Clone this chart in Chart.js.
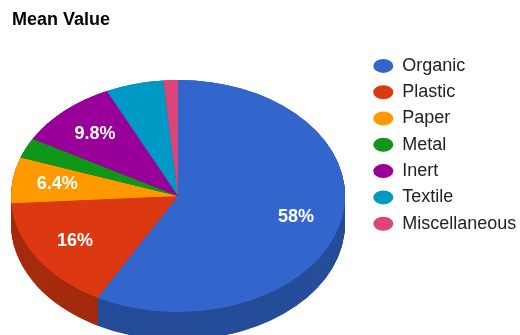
<!DOCTYPE html>
<html>
<head>
<meta charset="utf-8">
<script src="https://cdn.jsdelivr.net/npm/chart.js@4.4.0/dist/chart.umd.min.js"></script>
<style>
  body { margin: 0; background: #fff; }
  canvas { display: block; }
</style>
</head>
<body>
<canvas id="meanValueChart" width="520" height="335"></canvas>
<script>
const categories = ["Organic", "Plastic", "Paper", "Metal", "Inert", "Textile", "Miscellaneous"];
const meanValues = [58, 16, 6.4, 2.8, 9.8, 5.6, 1.4];
const sliceColors = ["#3366cc", "#dc3912", "#ff9900", "#109618", "#990099", "#0099c6", "#dd4477"];

// where the tilted pie sits on the page (screen px)
const tilt = { cx: 178, cy: 196, rx: 167, ry: 116, depth: 28 };
const labelMin = 6; // slices smaller than this get no label
const fontFamily = "'Liberation Sans', Arial, sans-serif";

function darker(hex, f) {
  const n = parseInt(hex.slice(1), 16);
  const r = Math.round(((n >> 16) & 255) * f);
  const g = Math.round(((n >> 8) & 255) * f);
  const b = Math.round((n & 255) * f);
  return `rgb(${r}, ${g}, ${b})`;
}
const sideColors = sliceColors.map((c) => darker(c, 0.75));

function pctText(v, total) {
  const p = (v / total) * 100;
  return (p >= 10 ? Math.round(p) : p.toFixed(1)) + "%";
}

// squash the pie into an ellipse and give it a side wall
const pie3d = {
  id: "pie3d",
  beforeDatasetsDraw(chart) {
    const arcs = chart.getDatasetMeta(0).data;
    const R = arcs[0].outerRadius;
    const ctx = chart.ctx;
    ctx.save();
    ctx.translate(tilt.cx, tilt.cy);
    ctx.scale(tilt.rx / R, tilt.ry / R);
    ctx.translate(-arcs[0].x, -arcs[0].y);
    const depth = tilt.depth * R / tilt.ry;
    const step = 0.5 * R / tilt.ry;
    for (let d = depth; d > 0; d -= step) {
      arcs.forEach((arc, i) => {
        ctx.beginPath();
        ctx.moveTo(arc.x, arc.y + d);
        ctx.arc(arc.x, arc.y + d, arc.outerRadius, arc.startAngle, arc.endAngle);
        ctx.closePath();
        ctx.fillStyle = sideColors[i];
        ctx.fill();
      });
    }
  },
  afterDatasetsDraw(chart) {
    const ctx = chart.ctx;
    ctx.restore();
    const arcs = chart.getDatasetMeta(0).data;
    const total = meanValues.reduce((a, b) => a + b, 0);
    ctx.save();
    ctx.fillStyle = "#ffffff";
    ctx.font = "bold 18px " + fontFamily;
    ctx.textAlign = "center";
    ctx.textBaseline = "middle";
    arcs.forEach((arc, i) => {
      if (meanValues[i] < labelMin) return;
      const mid = (arc.startAngle + arc.endAngle) / 2;
      const x = tilt.cx + Math.cos(mid) * 0.73 * tilt.rx;
      const y = tilt.cy + Math.sin(mid) * 0.73 * tilt.ry;
      ctx.fillText(pctText(meanValues[i], total), x, y);
    });
    ctx.restore();
  },
};

const ctx = document.getElementById("meanValueChart").getContext("2d");
new Chart(ctx, {
  type: "pie",
  data: {
    labels: categories,
    datasets: [
      {
        data: meanValues,
        backgroundColor: sliceColors,
        borderWidth: 0,
        clip: false,
      },
    ],
  },
  options: {
    responsive: false,
    animation: false,
    events: [],
    layout: { padding: { left: 12 } },
    plugins: {
      tooltip: { enabled: false },
      title: {
        display: true,
        text: "Mean Value",
        align: "start",
        color: "#000",
        font: { family: fontFamily, size: 18, weight: "bold" },
        padding: { top: 9, bottom: 18 },
      },
      legend: {
        position: "right",
        align: "start",
        fullSize: false,
        maxWidth: 155,
        labels: {
          usePointStyle: true,
          pointStyle: "circle",
          pointStyleWidth: 20,
          boxHeight: 9.9,
          padding: 8.3,
          color: "#222",
          font: { family: fontFamily, size: 18 },
        },
      },
    },
  },
  plugins: [pie3d],
});
</script>
</body>
</html>
